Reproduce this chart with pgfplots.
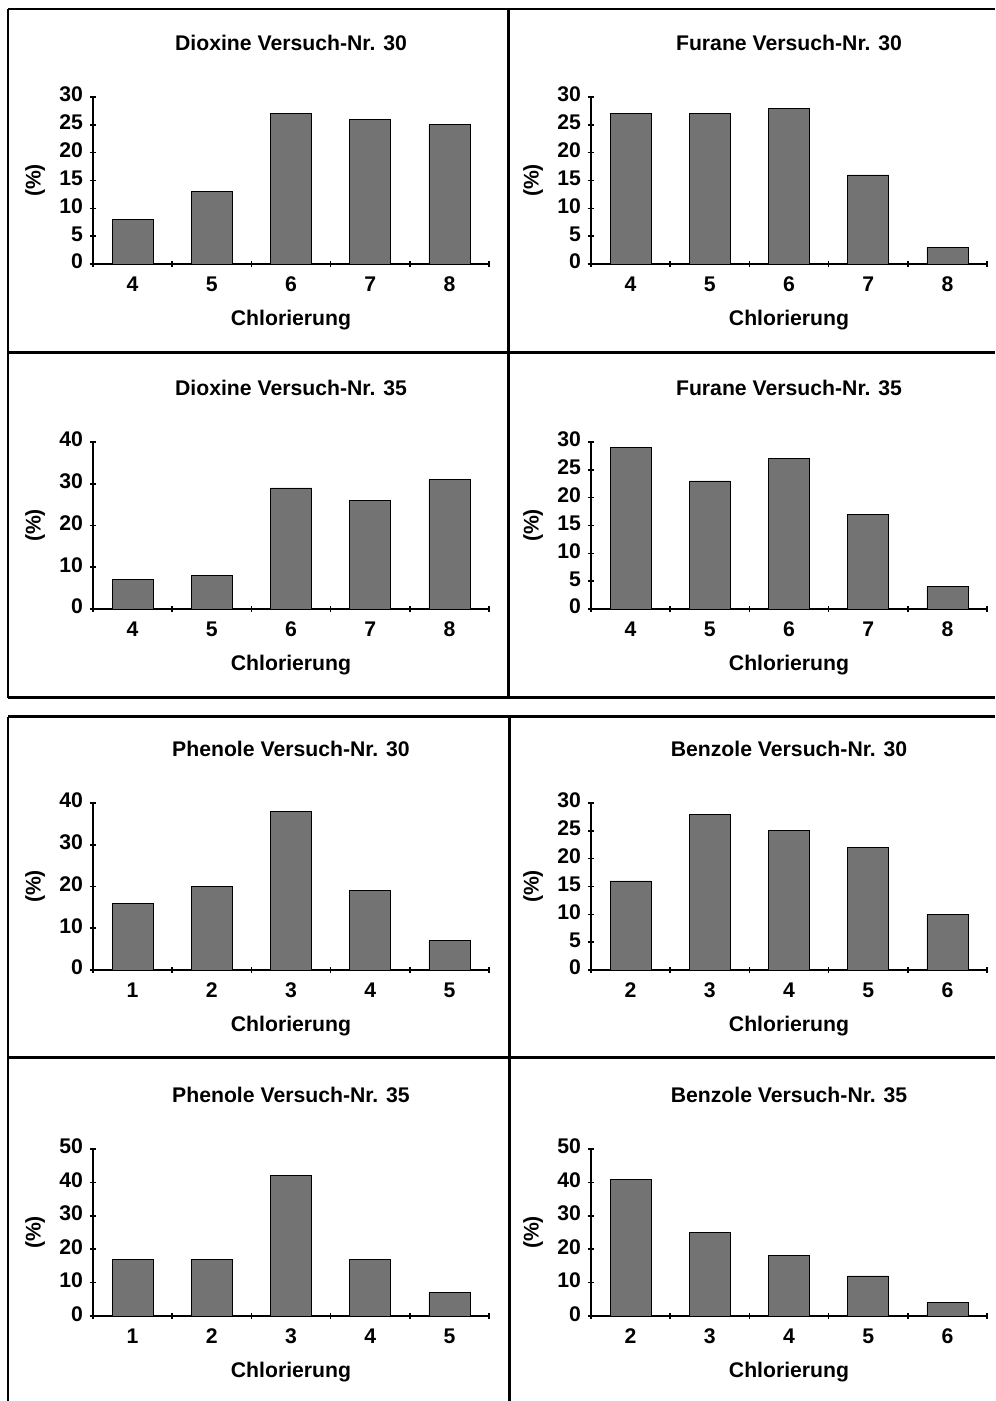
\documentclass[border=0pt]{standalone}
\usepackage{pgfplots}
\pgfplotsset{compat=1.18}
\usepackage{fontspec}
\setmainfont{Liberation Sans}
\definecolor{barg}{gray}{0.45}
\newcommand{\pf}{\fontsize{10.6}{12.5}\selectfont\bfseries}
\pgfplotsset{
  panel/.style={
    scale only axis, width=198pt, height=83.5pt, anchor=south west,
    axis x line*=bottom, axis y line*=left, axis line style={-, line width=1pt},
    ymin=0, xmin=-0.5, xmax=4.5, ybar, bar width=20.5pt,
    xtick={0,...,4}, major x tick style={draw=none},
    minor xtick={-0.5,0.5,...,4.5}, minor tick length=3pt,
    every minor tick/.style={line width=0.8pt, black},
    ytick style={line width=0.8pt, black}, major tick length=3pt, tick align=center,
    font=\pf,
    /pgf/number format/assume math mode=true,
    ticklabel style={font=\pf},
    typeset ticklabels with strut,
    yticklabel style={xshift=0pt},
    xticklabel style={yshift=0pt},
    title style={at={(0.5,1.25)}, anchor=center, font=\pf},
    xlabel style={at={(axis description cs:0.5,-0.335)}, anchor=center},
    ylabel style={at={(axis description cs:-0.146,0.5)}, anchor=center, rotate=0},
    xlabel={Chlorierung}, ylabel={(\%)},
    cycle list={{fill=barg, draw=black, line width=1.2pt}},
  }
}
\begin{document}
\begin{tikzpicture}[x=0.5pt,y=0.5pt]
\path[use as bounding box] (0,0) rectangle (995,1401);
% frames
\draw[line width=1pt] (8,1392) -- (995,1392);
\draw[line width=1pt] (8,1392) -- (8,703);
\draw[line width=1.5pt] (8,1048) -- (995,1048);
\draw[line width=1.5pt] (8,703) -- (995,703);
\draw[line width=1.5pt] (508,1392) -- (508,703);
\draw[line width=1.5pt] (8,684) -- (995,684);
\draw[line width=1pt] (8,684) -- (8,0);
\draw[line width=1.5pt] (8,343) -- (995,343);
\draw[line width=1.5pt] (509,684) -- (509,0);

\begin{axis}[panel, at={(46.5pt,568.5pt)}, title={Dioxine Versuch-Nr. 30}, ymax=30, ytick={0,5,...,30}, xticklabels={4,5,6,7,8}]
\addplot coordinates {(0,8) (1,13) (2,27) (3,26) (4,25)};
\end{axis}
\begin{axis}[panel, at={(295.5pt,568.5pt)}, title={Furane Versuch-Nr. 30}, ymax=30, ytick={0,5,...,30}, xticklabels={4,5,6,7,8}]
\addplot coordinates {(0,27) (1,27) (2,28) (3,16) (4,3)};
\end{axis}
\begin{axis}[panel, at={(46.5pt,396pt)}, title={Dioxine Versuch-Nr. 35}, ymax=40, ytick={0,10,...,40}, xticklabels={4,5,6,7,8}]
\addplot coordinates {(0,7) (1,8) (2,29) (3,26) (4,31)};
\end{axis}
\begin{axis}[panel, at={(295.5pt,396pt)}, title={Furane Versuch-Nr. 35}, ymax=30, ytick={0,5,...,30}, xticklabels={4,5,6,7,8}]
\addplot coordinates {(0,29) (1,23) (2,27) (3,17) (4,4)};
\end{axis}
\begin{axis}[panel, at={(46.5pt,215.5pt)}, title={Phenole Versuch-Nr. 30}, ymax=40, ytick={0,10,...,40}, xticklabels={1,2,3,4,5}]
\addplot coordinates {(0,16) (1,20) (2,38) (3,19) (4,7)};
\end{axis}
\begin{axis}[panel, at={(295.5pt,215.5pt)}, title={Benzole Versuch-Nr. 30}, ymax=30, ytick={0,5,...,30}, xticklabels={2,3,4,5,6}]
\addplot coordinates {(0,16) (1,28) (2,25) (3,22) (4,10)};
\end{axis}
\begin{axis}[panel, at={(46.5pt,42.5pt)}, title={Phenole Versuch-Nr. 35}, ymax=50, ytick={0,10,...,50}, xticklabels={1,2,3,4,5}]
\addplot coordinates {(0,17) (1,17) (2,42) (3,17) (4,7)};
\end{axis}
\begin{axis}[panel, at={(295.5pt,42.5pt)}, title={Benzole Versuch-Nr. 35}, ymax=50, ytick={0,10,...,50}, xticklabels={2,3,4,5,6}]
\addplot coordinates {(0,41) (1,25) (2,18) (3,12) (4,4)};
\end{axis}
\end{tikzpicture}
\end{document}
